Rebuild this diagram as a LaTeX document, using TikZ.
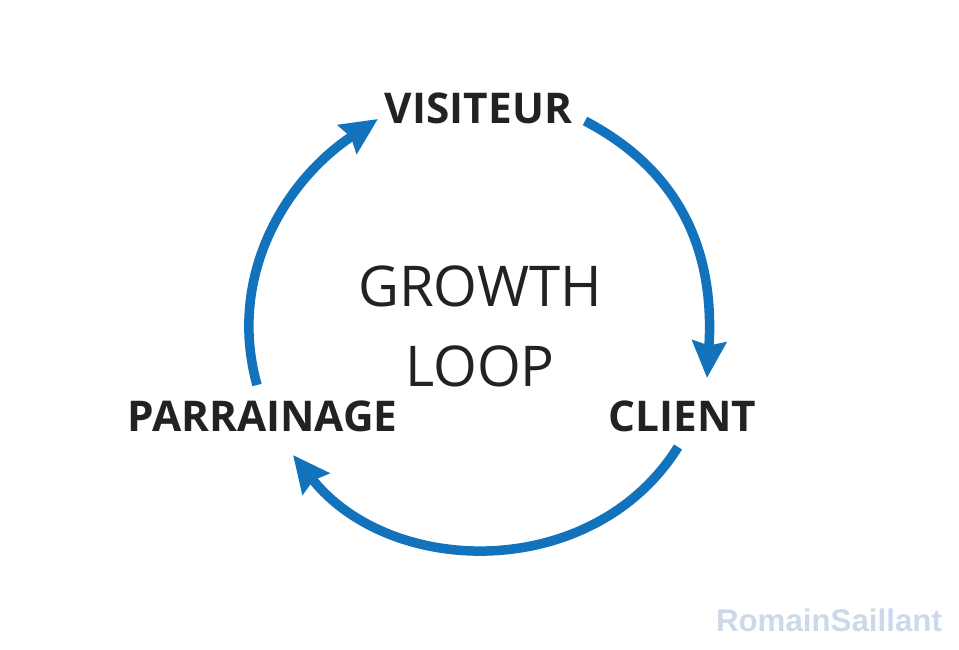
\documentclass[tikz,border=0pt]{standalone}
\usepackage{fontspec}
\setmainfont{Open Sans}
\newfontfamily\markfont{Liberation Sans}
\usetikzlibrary{arrows.meta}
\definecolor{loopblue}{HTML}{1272BC}
\definecolor{loopink}{HTML}{222222}
\definecolor{markblue}{HTML}{CBD9EA}
\tikzset{
	step label/.style={text=loopink,font=\fontsize{24.1}{28}\selectfont\bfseries,inner sep=0pt},
	loop edge/.style={draw=loopblue,line width=0.19cm,-{Stealth[length=0.73cm,width=0.67cm,inset=0.08cm]}}
}

\begin{document}
\begin{tikzpicture}[x=0.02cm,y=0.02cm]
	\useasboundingbox (0,0) rectangle (959,649);

	\node(growth) [text=loopink,align=center,font=\fontsize{32}{45.5}\selectfont,inner sep=0pt] at (480,323) {GROWTH\\LOOP};
	\node(visiteur) [step label] at (478.5,541) {VISITEUR};
	\node(client) [step label] at (682.5,233) {CLIENT};
	\node(parrainage) [step label] at (262.5,233) {PARRAINAGE};
	\node(mark) [text=markblue,font=\markfont\fontsize{17.8}{20}\selectfont\bfseries,inner sep=0pt] at (829,29) {RomainSaillant};

	\draw[loop edge] ([shift={(106.5,-13)}]visiteur.center) to[out=-27.7,in=86.4,looseness=1.05] ([shift={(24.5,38)}]client.center);
	\draw[loop edge] ([shift={(-4.5,-31)}]client.center) to[out=-122,in=-51.5,looseness=1.05] ([shift={(30.5,-39)}]parrainage.center);
	\draw[loop edge] ([shift={(-5.5,31)}]parrainage.center) to[out=105.5,in=-146.5,looseness=0.98] ([shift={(-100.5,-11)}]visiteur.center);
\end{tikzpicture}
\end{document}
